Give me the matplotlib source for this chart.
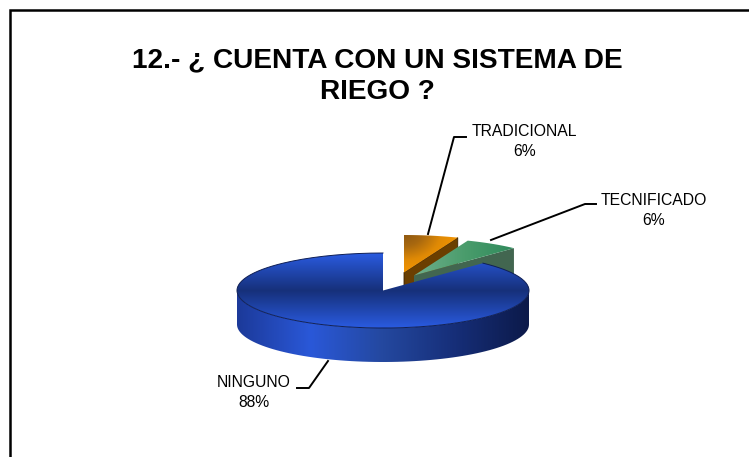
import matplotlib
matplotlib.use("Agg")
import matplotlib.pyplot as plt
import numpy as np
from matplotlib.colors import LinearSegmentedColormap
from matplotlib.patches import Polygon

plt.rcParams['font.family'] = ['Liberation Sans', 'DejaVu Sans']

title = "12.- ¿ CUENTA CON UN SISTEMA DE\nRIEGO ?"
categories = ["NINGUNO", "TRADICIONAL", "TECNIFICADO"]
values = [88, 6, 6]

W, H = 749, 457
CX, CY = 383, 290.5   # pie centre in pixels
RX, RY = 146, 37.5
DEPTH = 34
explode = {"TRADICIONAL": (21, -18), "TECNIFICADO": (31, -15)}


def gradient(ax, patch, colors, extent, horizontal=False, radial=False):
	cmap = LinearSegmentedColormap.from_list("g", colors)
	xx, yy = np.meshgrid(np.linspace(0, 1, 200), np.linspace(0, 1, 200))
	if radial:
		z = np.minimum(1, np.hypot(xx, yy))
	elif horizontal:
		z = xx
	else:
		z = yy
	im = ax.imshow(z, cmap=cmap, extent=extent, aspect='auto', zorder=patch.get_zorder(), interpolation='bilinear')
	patch.set_facecolor('none')
	patch.set_edgecolor('none')
	ax.add_patch(patch)
	im.set_clip_path(patch)


def arc(a0, a1, cx, cy, n=80):
	t = np.radians(np.linspace(a0, a1, n))
	return cx + RX * np.cos(t), cy - RY * np.sin(t)


fig = plt.figure(figsize=(W / 100, H / 100), dpi=100)
ax = fig.add_axes([0, 0, 1, 1])
ax.axis('off')

# slice angles run clockwise from 12 o'clock, small slices first
ang_trad = values[1] / sum(values) * 360
ang_tec = values[2] / sum(values) * 360
a_top = 90
a_trad = a_top - ang_trad
a_tec = a_trad - ang_tec

# tradicional
ox, oy = CX + explode["TRADICIONAL"][0], CY + explode["TRADICIONAL"][1]
xs, ys = arc(a_trad, a_trad, ox, oy, 1)
wall = Polygon([(ox, oy), (xs[0], ys[0]), (xs[0], ys[0] + DEPTH), (ox, oy + DEPTH)], zorder=2, fc='#6b3f00', ec='#3a2200', lw=0.6)
ax.add_patch(wall)
xa, ya = arc(a_trad, a_top, ox, oy)
top = Polygon(np.column_stack([np.r_[ox, xa], np.r_[oy, ya]]), zorder=3)
gradient(ax, top, ['#8a5512', '#a8680f', '#e08a05', '#f59500'], (ox, ox + 56, oy + 2, oy - 40), radial=True)

# tecnificado
ox, oy = CX + explode["TECNIFICADO"][0], CY + explode["TECNIFICADO"][1]
xs, ys = arc(a_tec, a_tec, ox, oy, 1)
wall = Polygon([(ox, oy), (xs[0], ys[0]), (xs[0], ys[0] + DEPTH), (ox, oy + DEPTH)], zorder=4, fc='#426650', ec='none')
ax.add_patch(wall)
xa, ya = arc(a_tec, a_trad, ox, oy)
top = Polygon(np.column_stack([np.r_[ox, xa], np.r_[oy, ya]]), zorder=5)
gradient(ax, top, ['#6fb08c', '#4a9c6c', '#2f8a5c'], (ox, ox + 102, oy + 2, oy - 42), horizontal=True)

# ninguno, side first then top
xa, ya = arc(180, 360, CX, CY)
side = Polygon(np.column_stack([np.r_[xa, xa[::-1]], np.r_[ya, ya[::-1] + DEPTH]]), zorder=6)
gradient(ax, side, ['#1c3a9a', '#2a58d8', '#24489f', '#162e78', '#0c1a4a'], (CX - RX, CX + RX, CY + 80, CY), horizontal=True)
xa, ya = arc(a_top, a_tec + 360, CX, CY, 200)
top = Polygon(np.column_stack([np.r_[CX, xa], np.r_[CY, ya]]), zorder=7)
gradient(ax, top, ['#2a5be0', '#16307a', '#2a5be0'], (CX - RX, CX + RX, CY + RY, CY - RY))
ax.plot(xa, ya, color='#0f1f55', lw=0.7, zorder=8)

# frame, the image cuts it off at the right and bottom
ax.plot([10, 10, W], [H, 10, 10], color='black', lw=1.8, zorder=9, solid_joinstyle='miter')

ax.text(377, 76, title, ha='center', va='center', fontsize=20.2, fontweight='bold', linespacing=1.3, zorder=10)

# leader lines and labels
ax.plot([428, 454, 466], [234, 137, 137], color='black', lw=1.4, zorder=9)
ax.plot([491, 585, 596], [240, 204, 204], color='black', lw=1.4, zorder=9)
ax.plot([328, 309, 297], [361, 388, 388], color='black', lw=1.4, zorder=9)
ax.text(524.5, 141.5, f"{categories[1]}\n{values[1]}%", ha='center', va='center', fontsize=11.3, linespacing=1.35, zorder=10)
ax.text(653.5, 210.5, f"{categories[2]}\n{values[2]}%", ha='center', va='center', fontsize=11.3, linespacing=1.35, zorder=10)
ax.text(254, 392.5, f"{categories[0]}\n{values[0]}%", ha='center', va='center', fontsize=11.3, linespacing=1.35, zorder=10)

ax.set_xlim(0, W)
ax.set_ylim(H, 0)
fig.savefig("out.png", dpi=100)
